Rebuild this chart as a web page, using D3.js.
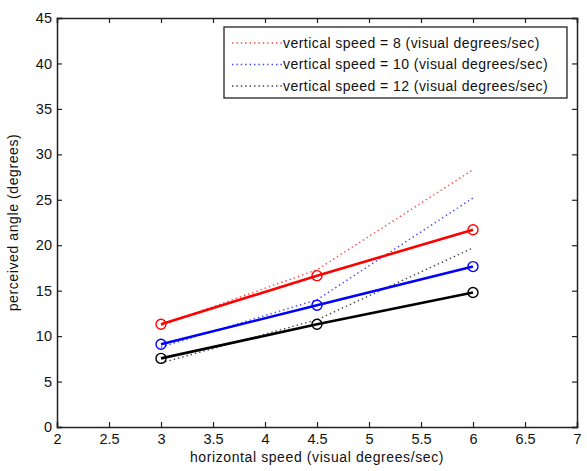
<!DOCTYPE html>
<html>
<head>
<meta charset="utf-8">
<script src="https://cdn.jsdelivr.net/npm/d3@7"></script>
<style>
  body { margin: 0; background: #fff; }
  svg { display: block; font-family: "Liberation Sans", Arial, sans-serif; }
</style>
</head>
<body>
<div id="canvas"></div>
<script>
"use strict"

/* Data */
let speeds = [3, 4.5, 6]; // horizontal speed
let verticalSpeeds = [8, 10, 12];
let colors = ["#ff0000", "#0000ff", "#000000"];

// measured (solid lines with circles)
let measured8 = [11.3, 16.65, 21.7];
let measured10 = [9.1, 13.4, 17.65];
let measured12 = [7.55, 11.3, 14.8];

// dotted lines (the ones in the legend)
let dotted8 = [11.2, 17.3, 28.3];
let dotted10 = [8.8, 14.0, 25.2];
let dotted12 = [7.05, 11.8, 19.7];

let xTicks = [2, 2.5, 3, 3.5, 4, 4.5, 5, 5.5, 6, 6.5, 7];
let yTicks = [0, 5, 10, 15, 20, 25, 30, 35, 40, 45];

/* Drawing config */
let svgWidth = 587;
let svgHeight = 471;
let plot = { left: 57, right: 577, top: 18, bottom: 427 };

let svg = d3.select("#canvas")
    .append("svg")
    .attr("width", svgWidth)
    .attr("height", svgHeight);

let xScale = d3.scaleLinear()
    .domain([2, 7])
    .range([plot.left, plot.right]);

let yScale = d3.scaleLinear()
    .domain([0, 45])
    .range([plot.bottom, plot.top]);

/* axes, MATLAB style: ticks inward, box around */
let xAxis = svg.append("g")
    .attr("transform", "translate(0," + plot.bottom + ")")
    .call(d3.axisBottom(xScale).tickValues(xTicks).tickSize(-5).tickPadding(7).tickFormat(d => d));

let yAxis = svg.append("g")
    .attr("transform", "translate(" + plot.left + ",0)")
    .call(d3.axisLeft(yScale).tickValues(yTicks).tickSize(-5).tickPadding(5).tickFormat(d => d));

svg.append("g")
    .attr("transform", "translate(0," + plot.top + ")")
    .call(d3.axisTop(xScale).tickValues(xTicks).tickSize(-5).tickFormat(""));

svg.append("g")
    .attr("transform", "translate(" + plot.right + ",0)")
    .call(d3.axisRight(yScale).tickValues(yTicks).tickSize(-5).tickFormat(""));

svg.selectAll(".domain")
    .attr("stroke", "#222")
    .attr("stroke-width", 1.5);
svg.selectAll(".tick line")
    .attr("stroke", "#222")
    .attr("stroke-width", 1.2);

xAxis.selectAll("text")
    .style("font-size", "14.5px")
    .attr("fill", "#111")
    .attr("font-family", "Liberation Sans, Arial, sans-serif");
yAxis.selectAll("text")
    .style("font-size", "14.5px")
    .attr("fill", "#111")
    .attr("font-family", "Liberation Sans, Arial, sans-serif");

// axis titles
svg.append("text")
    .attr("x", xScale(4.5))
    .attr("y", 462)
    .attr("text-anchor", "middle")
    .style("font-size", "14px")
    .style("letter-spacing", "0.6px")
    .attr("fill", "#111")
    .text("horizontal speed (visual degrees/sec)");

svg.append("text")
    .attr("transform", "translate(18," + yScale(22.5) + ") rotate(-90)")
    .attr("text-anchor", "middle")
    .style("font-size", "14px")
    .style("letter-spacing", "0.6px")
    .attr("fill", "#111")
    .text("perceived angle (degrees)");

/* lines */
let line = d3.line()
    .x((d, i) => xScale(speeds[i]))
    .y(d => yScale(d));

let dottedSeries = [dotted8, dotted10, dotted12];
let measuredSeries = [measured8, measured10, measured12];

svg.selectAll(".dotted")
    .data(dottedSeries)
    .join("path")
    .attr("class", "dotted")
    .attr("d", line)
    .attr("fill", "none")
    .attr("stroke", (d, i) => colors[i])
    .attr("stroke-opacity", 0.75)
    .attr("stroke-width", 1.4)
    .attr("stroke-dasharray", "1.4,3");

svg.selectAll(".measured")
    .data(measuredSeries)
    .join("path")
    .attr("class", "measured")
    .attr("d", line)
    .attr("fill", "none")
    .attr("stroke", (d, i) => colors[i])
    .attr("stroke-width", 2.6);

measuredSeries.forEach(function(series, k) {
    svg.selectAll(".marker" + k)
        .data(series)
        .join("circle")
        .attr("class", "marker" + k)
        .attr("cx", (d, i) => xScale(speeds[i]))
        .attr("cy", d => yScale(d))
        .attr("r", 5)
        .attr("fill", "none")
        .attr("stroke", colors[k])
        .attr("stroke-width", 1.4);
});

/* legend */
let legendX = 224;
let legendY = 27;

svg.append("rect")
    .attr("x", legendX)
    .attr("y", legendY)
    .attr("width", 343)
    .attr("height", 71)
    .attr("fill", "#fff")
    .attr("stroke", "#222")
    .attr("stroke-width", 1.3);

let legendRows = svg.selectAll(".legendRow")
    .data(verticalSpeeds)
    .join("g")
    .attr("class", "legendRow")
    .attr("transform", (d, i) => "translate(" + legendX + "," + (legendY + 16 + i * 21.5) + ")");

legendRows.append("line")
    .attr("x1", 8)
    .attr("x2", 59)
    .attr("stroke", (d, i) => colors[i])
    .attr("stroke-opacity", 0.75)
    .attr("stroke-width", 1.4)
    .attr("stroke-dasharray", "1.4,3");

legendRows.append("text")
    .attr("x", 59)
    .attr("dy", "0.35em")
    .style("font-size", "14px")
    .style("letter-spacing", "0.45px")
    .attr("fill", "#111")
    .text(d => "vertical speed = " + d + " (visual degrees/sec)");
</script>
</body>
</html>
